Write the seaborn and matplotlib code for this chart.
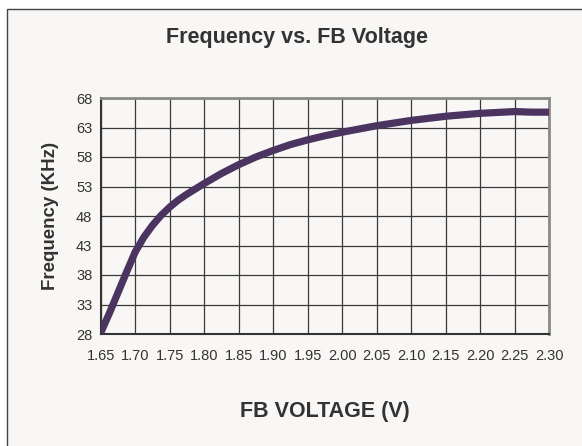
import pandas as pd
import seaborn as sns
import matplotlib.pyplot as plt
from matplotlib.patches import Rectangle

# Values
voltage = [1.65, 1.6625, 1.675, 1.6875, 1.70, 1.7125, 1.725, 1.7375, 1.75, 1.7625,
           1.775, 1.80, 1.825, 1.85, 1.875, 1.90, 1.925, 1.95, 1.975, 2.00,
           2.05, 2.10, 2.15, 2.20, 2.25, 2.275, 2.30]
frequency = [28.2, 31.5, 35.0, 38.5, 41.9, 44.4, 46.4, 48.1, 49.5, 50.7,
             51.7, 53.5, 55.2, 56.7, 58.0, 59.1, 60.1, 60.9, 61.6, 62.2,
             63.3, 64.2, 64.9, 65.4, 65.7, 65.6, 65.6]
x_ticks = [1.65, 1.70, 1.75, 1.80, 1.85, 1.90, 1.95, 2.00, 2.05, 2.10, 2.15, 2.20, 2.25, 2.30]
y_ticks = [28, 33, 38, 43, 48, 53, 58, 63, 68]

df = pd.DataFrame({"voltage": voltage, "frequency": frequency})

sns.set_style("white")
plt.rcParams["font.family"] = ["Liberation Sans", "DejaVu Sans"]

bg = "#f8f7f5"
fig = plt.figure(figsize=(5.82, 4.46), dpi=100)
fig.patch.set_facecolor("white")
# outer chart frame (cut off at right/bottom like the reference)
fig.patches.append(Rectangle((6.5 / 582, -0.05), 1.2, 1 - 8.5 / 446 + 0.05,
                             transform=fig.transFigure, facecolor=bg,
                             edgecolor="#444444", linewidth=1.0, zorder=-10))

ax = fig.add_axes([100.7 / 582, 1 - 334 / 446, 448.3 / 582, 236 / 446])
ax.set_facecolor(bg)

sns.lineplot(data=df, x="voltage", y="frequency", ax=ax, color="#4b3560",
             linewidth=5.2, solid_capstyle="butt", solid_joinstyle="round", zorder=3)

ax.set_xlim(1.65, 2.30)
ax.set_ylim(28, 68)
ax.set_xticks(x_ticks)
ax.set_xticklabels([f"{v:.2f}" for v in x_ticks])
ax.set_yticks(y_ticks)
ax.grid(True, color="#3a3a3a", linewidth=0.9)
ax.set_axisbelow(True)
ax.tick_params(axis="both", length=0, labelsize=10.5, colors="#333333", pad=6)
ax.tick_params(axis="x", pad=11)

for side in ["top", "right"]:
    ax.spines[side].set_color("#8a8a88")
    ax.spines[side].set_linewidth(2.0)
for side in ["left", "bottom"]:
    ax.spines[side].set_color("#333333")
    ax.spines[side].set_linewidth(1.5)

ax.set_xlabel("FB VOLTAGE (V)", fontsize=15.5, fontweight="bold", color="#333333", labelpad=27)
ax.set_ylabel("Frequency (KHz)", fontsize=13.5, fontweight="bold", color="#333333", labelpad=12)
fig.text(297 / 582, 1 - 37 / 446, "Frequency vs. FB Voltage", ha="center", va="center",
         fontsize=15.5, fontweight="bold", color="#333333")

plt.savefig("out.png", dpi=100, facecolor=fig.get_facecolor())
